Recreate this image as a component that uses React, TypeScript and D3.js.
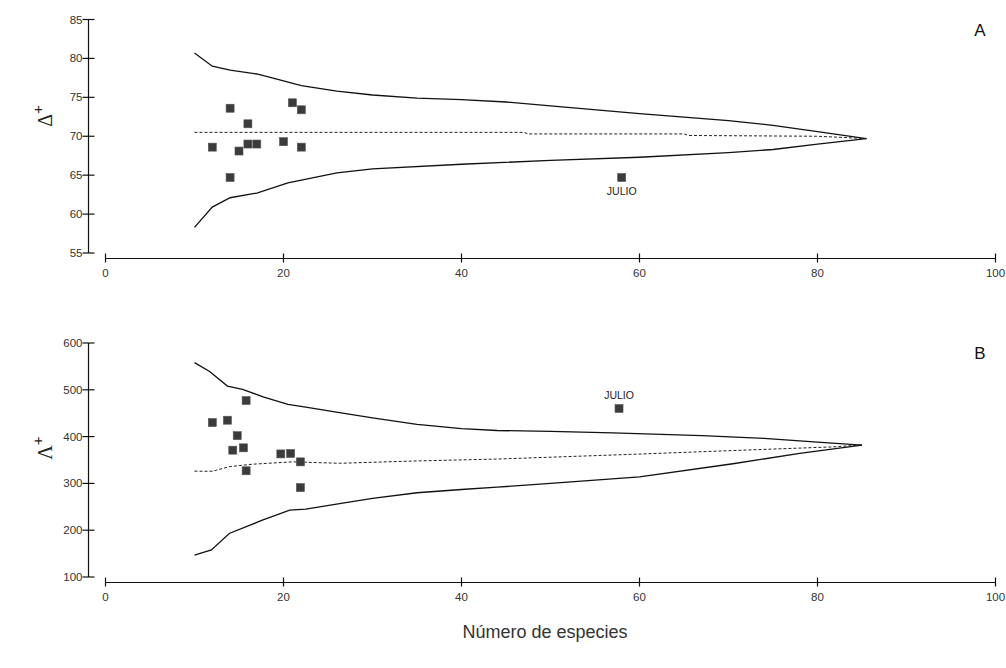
import React from "react";
import * as d3 from "d3";

// funnel plots: average taxonomic distinctness (A) and variation (B)
const W = 1006;
const H = 668;

// panel A – Δ+
const aSpecies = [12, 14, 14, 15, 16, 16, 17, 20, 21, 22, 22, 58];
const aValues = [68.6, 73.6, 64.7, 68.1, 69.0, 71.6, 69.0, 69.3, 74.3, 73.4, 68.6, 64.7];
const aUpper = [
  [10, 80.7], [12, 79.0], [14, 78.5], [17, 78.0], [20, 77.1], [22, 76.5],
  [26, 75.8], [30, 75.3], [35, 74.9], [40, 74.7], [45, 74.4], [50, 73.9],
  [60, 72.9], [70, 72.0], [75, 71.4], [80, 70.6], [85.5, 69.7],
];
const aMean = [
  [10, 70.5], [47, 70.5], [47.5, 70.3], [65, 70.3], [65.5, 70.1], [80, 70.0], [85.5, 69.7],
];
const aLower = [
  [10, 58.3], [12, 60.9], [14, 62.1], [17, 62.7], [20.5, 64.0], [26, 65.3],
  [30, 65.8], [40, 66.4], [50, 66.9], [60, 67.3], [70, 67.9], [75, 68.3],
  [80, 69.0], [85.5, 69.7],
];
const aTicks = [55, 60, 65, 70, 75, 80, 85];

// panel B – Λ+
const bSpecies = [12, 13.7, 14.3, 14.8, 15.5, 15.8, 15.8, 19.7, 20.8, 21.9, 21.9, 57.7];
const bValues = [430, 435, 371, 402, 376, 477, 327, 363, 364, 346, 291, 460];
const bUpper = [
  [10, 558], [11.7, 539], [13.7, 508], [15.4, 501], [17.7, 485], [20.5, 469],
  [22.5, 463], [26.3, 451], [30, 440], [35, 426], [40, 417], [44, 413],
  [50, 411], [57, 408], [67, 402], [74, 396], [80, 388], [85, 382],
];
const bMean = [
  [10, 326], [12, 326], [14, 336], [16.5, 341], [21, 346], [26.3, 343],
  [35, 348], [44, 352], [59, 362], [71.6, 371], [81.7, 378], [85, 382],
];
const bLower = [
  [10, 147], [11.9, 158], [13.9, 193], [17.7, 222], [20.7, 243], [22.5, 245],
  [26.3, 257], [30, 268], [35, 280], [40, 287], [44, 292], [50, 300],
  [60, 314], [70.5, 342], [78, 364], [85, 382],
];
const bTicks = [100, 200, 300, 400, 500, 600];

const xTicks = [0, 20, 40, 60, 80, 100];

type Pt = number[];

function Panel(props: {
  top: number;
  bottom: number;
  axisY: number;
  domain: [number, number];
  ticks: number[];
  species: number[];
  values: number[];
  upper: Pt[];
  mean: Pt[];
  lower: Pt[];
  letter: string;
  symbol: string;
  symbolY: number;
  labelDy: number;
}) {
  const x = d3.scaleLinear().domain([0, 100]).range([105.5, 995.5]);
  const y = d3.scaleLinear().domain(props.domain).range([props.bottom, props.top]);
  const line = d3
    .line<Pt>()
    .x((d) => x(d[0]))
    .y((d) => y(d[1]));
  const tickFont = { fontFamily: "Arial, Liberation Sans, sans-serif", fontSize: 11.5, fill: "#333" };
  const yAxisX = 88.5;
  const n = props.species.length;

  return (
    <g>
      {/* y axis */}
      <line x1={yAxisX} x2={yAxisX} y1={props.top} y2={props.bottom} stroke="#111" strokeWidth={1.2} />
      {props.ticks.map((t) => (
        <g key={t} transform={`translate(0,${y(t)})`}>
          <line x1={yAxisX - 6} x2={yAxisX + 6} stroke="#111" strokeWidth={1.2} />
          <text x={yAxisX - 6} dy="0.35em" textAnchor="end" {...tickFont}>
            {t}
          </text>
        </g>
      ))}
      {/* x axis */}
      <line x1={x(0)} x2={x(100)} y1={props.axisY} y2={props.axisY} stroke="#111" strokeWidth={1.2} />
      {xTicks.map((t) => (
        <g key={t} transform={`translate(${x(t)},${props.axisY})`}>
          <line y1={-5} y2={4} stroke="#111" strokeWidth={1.2} />
          <text y={18} textAnchor="middle" {...tickFont}>
            {t}
          </text>
        </g>
      ))}
      {/* funnel */}
      <path d={line(props.upper) || ""} fill="none" stroke="#111" strokeWidth={1.3} />
      <path d={line(props.lower) || ""} fill="none" stroke="#111" strokeWidth={1.3} />
      <path d={line(props.mean) || ""} fill="none" stroke="#222" strokeWidth={1} strokeDasharray="3,2" />
      {/* samples */}
      {props.species.map((s, i) => (
        <rect
          key={i}
          x={x(s) - 4}
          y={y(props.values[i]) - 4}
          width={8}
          height={8}
          fill="#3b3b3b"
          stroke="#555"
          strokeWidth={0.6}
        />
      ))}
      <text
        x={x(props.species[n - 1])}
        y={y(props.values[n - 1]) + props.labelDy}
        textAnchor="middle"
        fontFamily="Arial, Liberation Sans, sans-serif"
        fontSize={10.5}
        fill="#222"
      >
        JULIO
      </text>
      <text
        x={980}
        y={props.top + 16}
        textAnchor="middle"
        fontFamily="Arial, Liberation Sans, sans-serif"
        fontSize={17}
        fill="#111"
      >
        {props.letter}
      </text>
      <text
        transform={`translate(52,${props.symbolY}) rotate(-90)`}
        textAnchor="middle"
        fontFamily="Liberation Serif, DejaVu Serif, serif"
        fontSize={20}
        fill="#222"
      >
        {props.symbol}
        <tspan fontSize={15} dy={-9} fontFamily="Arial, Liberation Sans, sans-serif">
          +
        </tspan>
      </text>
    </g>
  );
}

export default function App() {
  return (
    <svg width={W} height={H} style={{ position: "absolute", left: 0, top: 0, background: "#fff" }}>
      <Panel
        top={19.5}
        bottom={253}
        axisY={258.5}
        domain={[55, 85]}
        ticks={aTicks}
        species={aSpecies}
        values={aValues}
        upper={aUpper}
        mean={aMean}
        lower={aLower}
        letter="A"
        symbol="Δ"
        symbolY={116}
        labelDy={17}
      />
      <Panel
        top={343}
        bottom={577}
        axisY={582.5}
        domain={[100, 600]}
        ticks={bTicks}
        species={bSpecies}
        values={bValues}
        upper={bUpper}
        mean={bMean}
        lower={bLower}
        letter="B"
        symbol="Λ"
        symbolY={448}
        labelDy={-10}
      />
      <text
        x={545}
        y={638}
        textAnchor="middle"
        fontFamily="Arial, Liberation Sans, sans-serif"
        fontSize={18}
        fill="#333"
      >
        Número de especies
      </text>
    </svg>
  );
}
